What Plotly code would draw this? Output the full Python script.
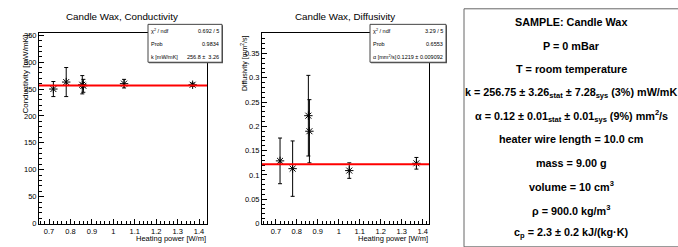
import plotly.graph_objects as go

# ---- data ----
power = [0.72, 0.78, 0.855, 0.86, 1.05, 1.37]
conductivity = [250, 263, 258, 256, 260, 258]
conductivity_err = [14, 27, 17, 12, 8, 3]
diffusivity = [0.129, 0.113, 0.222, 0.190, 0.109, 0.124]
diffusivity_err = [0.047, 0.057, 0.083, 0.065, 0.016, 0.012]
k_fit = 256.8
alpha_fit = 0.1219

stats1 = [("χ<sup>2</sup> / ndf", "0.692 / 5"), ("Prob", "0.9834"), ("k [mW/mK]", "256.8 ±  3.26")]
stats2 = [("χ<sup>2</sup> / ndf", "3.29 / 5"), ("Prob", "0.6553"), ("α [mm<sup>2</sup>/s]", "0.1219 ± 0.009092")]
info_lines = [
    "SAMPLE: Candle Wax",
    "P = 0 mBar",
    "T = room temperature",
    "k = 256.75 ± 3.26<sub>stat</sub> ± 7.28<sub>sys</sub> (3%) mW/mK",
    "α = 0.12 ± 0.01<sub>stat</sub> ± 0.01<sub>sys</sub> (9%) mm<sup>2</sup>/s",
    "heater wire length = 10.0 cm",
    "mass = 9.00 g",
    "volume = 10 cm<sup>3</sup>",
    "ρ = 900.0 kg/m<sup>3</sup>",
    "c<sub>p</sub> = 2.3 ± 0.2 kJ/(kg·K)",
]

W, H = 678, 247
FONT = "Liberation Sans, Arial, sans-serif"

def px(x):
    return x / W

def py(y):
    return (H - y) / H

fig = go.Figure()

for data, err, xa, ya in [(conductivity, conductivity_err, "x", "y"),
                          (diffusivity, diffusivity_err, "x2", "y2")]:
    fig.add_trace(go.Scatter(
        x=power, y=data, mode="markers", xaxis=xa, yaxis=ya,
        marker=dict(symbol="asterisk-open", size=7, color="black",
                    line=dict(width=1, color="black")),
        error_y=dict(type="data", array=err, color="black", thickness=1, width=2),
        showlegend=False, hoverinfo="skip"))

axis_common = dict(showline=True, linecolor="black", linewidth=1, mirror=True,
                   ticks="inside", ticklen=5, tickcolor="black", showgrid=False,
                   zeroline=False, tickfont=dict(family=FONT, size=7.5, color="black"))

fig.update_layout(
    width=W, height=H, margin=dict(l=0, r=0, t=0, b=0),
    paper_bgcolor="white", plot_bgcolor="white",
    xaxis=dict(domain=[px(39), px(207)], range=[0.653, 1.437], anchor="y",
               dtick=0.1, tick0=0.7,
               minor=dict(dtick=0.02, ticks="inside", ticklen=2.5, tickcolor="black"),
               **axis_common),
    yaxis=dict(domain=[py(228), py(32)], range=[0, 354], anchor="x",
               dtick=50, minor=dict(dtick=10, ticks="inside", ticklen=2.5, tickcolor="black"),
               **axis_common),
    xaxis2=dict(domain=[px(262), px(429)], range=[0.634, 1.43], anchor="y2",
                dtick=0.1, tick0=0.7,
                minor=dict(dtick=0.02, ticks="inside", ticklen=2.5, tickcolor="black"),
                **axis_common),
    yaxis2=dict(domain=[py(228), py(32)], range=[0, 0.392], anchor="x2",
                dtick=0.05, minor=dict(dtick=0.01, ticks="inside", ticklen=2.5, tickcolor="black"),
                **axis_common),
)

# fit lines
fig.add_shape(type="line", xref="x domain", yref="y", x0=0, x1=1, y0=k_fit, y1=k_fit,
              line=dict(color="red", width=2))
fig.add_shape(type="line", xref="x2 domain", yref="y2", x0=0, x1=1, y0=alpha_fit, y1=alpha_fit,
              line=dict(color="red", width=2))

def note(text, x, y, size, xanchor="center", yanchor="middle", angle=0):
    fig.add_annotation(text=text, x=px(x), y=py(y), xref="paper", yref="paper",
                       xanchor=xanchor, yanchor=yanchor, textangle=angle, showarrow=False,
                       borderpad=0,
                       font=dict(family=FONT, size=size, color="black"))

# titles
note("Candle Wax, Conductivity", 122, 15, 9.8)
note("Candle Wax, Diffusivity", 345, 15, 9.8)

# axis titles
for xr in (207, 429):
    note("Heating power [W/m]", xr, 243.5, 7.5, xanchor="right")
note("Conductivity [mW/mK]", 26, 33, 8, yanchor="top", angle=-90)
note("Diffusivity [mm<sup>2</sup>/s]", 244, 33, 7, yanchor="top", angle=-90)

# stats boxes
for (x0, x1), stats in [((148, 222), stats1), ((370, 446), stats2)]:
    fig.add_shape(type="rect", xref="paper", yref="paper",
                  x0=px(x0 + 1), x1=px(x1 + 1), y0=py(63), y1=py(24),
                  fillcolor="#555", line=dict(width=0), layer="above")
    fig.add_shape(type="rect", xref="paper", yref="paper",
                  x0=px(x0), x1=px(x1), y0=py(62), y1=py(23),
                  fillcolor="white", line=dict(color="#444", width=1), layer="above")
    for i, (lab, val) in enumerate(stats):
        yy = 29.5 + 13.5 * i
        note(lab, x0 + 2, yy, 5.5, xanchor="left")
        note(val, x1 - 2, yy, 5.5, xanchor="right")

# info panel
fig.add_shape(type="rect", xref="paper", yref="paper", x0=px(464), x1=px(W + 5),
              y0=py(H + 5), y1=py(7), fillcolor="white", line=dict(color="#666", width=1))
for i, line in enumerate(info_lines):
    note("<b>" + line + "</b>", 571, 21 + 24.1 * i, 10.8)

fig.write_html("out.html", config={"displayModeBar": False},
               post_script="document.body.style.margin='0';")
